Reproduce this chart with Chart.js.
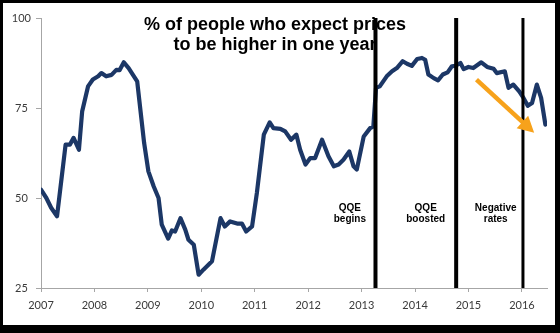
<!DOCTYPE html>
<html>
<head>
<meta charset="utf-8">
<script src="https://cdn.jsdelivr.net/npm/chart.js@4.4.1/dist/chart.umd.min.js"></script>
<style>
  html, body { margin: 0; padding: 0; background: #000; }
  #wrap { position: relative; width: 560px; height: 333px; overflow: hidden; }
  #panel { position: absolute; left: 3px; top: 3px; width: 552px; height: 322px; background: #fff; }
  canvas { position: absolute; left: 0; top: 0; }
</style>
</head>
<body>
<div id="wrap">
  <div id="panel"></div>
  <canvas id="c" width="560" height="333"></canvas>
</div>
<script>
// Survey dates (decimal years) and share of people expecting higher prices (%)
const dates = [
  2007.00, 2007.10, 2007.19, 2007.30, 2007.46, 2007.54, 2007.61, 2007.71, 2007.77, 2007.88,
  2007.97, 2008.07, 2008.13, 2008.22, 2008.32, 2008.41, 2008.47, 2008.55, 2008.64, 2008.70,
  2008.80, 2008.86, 2008.93, 2009.01, 2009.11, 2009.20, 2009.26, 2009.38, 2009.45, 2009.51,
  2009.61, 2009.70, 2009.76, 2009.86, 2009.95, 2010.04, 2010.20, 2010.36, 2010.44, 2010.54,
  2010.67, 2010.76, 2010.84, 2010.95, 2011.04, 2011.17, 2011.28, 2011.35, 2011.48, 2011.57,
  2011.68, 2011.78, 2011.85, 2011.95, 2012.04, 2012.13, 2012.26, 2012.38, 2012.48, 2012.57,
  2012.66, 2012.77, 2012.85, 2012.91, 2013.04, 2013.16, 2013.22, 2013.27, 2013.34, 2013.47,
  2013.57, 2013.66, 2013.77, 2013.85, 2013.94, 2014.04, 2014.13, 2014.19, 2014.25, 2014.35,
  2014.43, 2014.52, 2014.61, 2014.69, 2014.75, 2014.85, 2014.91, 2015.00, 2015.09, 2015.24,
  2015.35, 2015.47, 2015.53, 2015.68, 2015.75, 2015.84, 2015.95, 2016.03, 2016.11, 2016.19,
  2016.28, 2016.36, 2016.44
];
const expectHigher = [
  52.3, 50.0, 47.3, 44.9, 64.8, 64.8, 66.7, 63.4, 74.0, 81.0,
  82.9, 83.8, 84.7, 83.8, 84.2, 85.6, 85.5, 87.7, 86.1, 84.7,
  82.4, 74.5, 65.3, 57.4, 53.2, 50.0, 42.6, 38.7, 41.0, 40.7,
  44.4, 41.2, 38.4, 37.0, 28.7, 30.1, 32.4, 44.4, 42.1, 43.5,
  42.9, 42.9, 40.7, 42.1, 51.4, 67.6, 71.0, 69.4, 69.2, 68.5,
  66.2, 67.6, 63.4, 59.3, 61.1, 61.1, 66.2, 61.6, 58.8, 59.3,
  60.6, 62.9, 58.8, 57.9, 67.1, 69.4, 69.9, 80.6, 81.0, 83.8,
  85.2, 86.1, 88.0, 87.3, 86.7, 88.6, 88.9, 88.4, 84.3, 83.3,
  82.7, 84.3, 84.9, 86.6, 86.7, 87.5, 85.8, 86.4, 86.1, 87.7,
  86.4, 85.9, 84.7, 85.2, 80.6, 81.5, 79.6, 77.8, 75.6, 76.4,
  81.5, 77.8, 70.4
];
const yearTicks = [2007, 2008, 2009, 2010, 2011, 2012, 2013, 2014, 2015, 2016];
const valueTicks = [25, 50, 75, 100];

// Policy events: QQE start, QQE expansion, negative rates
const eventDates = [2013.26, 2014.77, 2016.02];
const eventNames = [['QQE', 'begins'], ['QQE', 'boosted'], ['Negative', 'rates']];

// Downward trend arrow (data coordinates)
const trendFrom = { x: 2015.15, y: 82.9 };
const trendTo = { x: 2016.23, y: 68.1 };

const titleLines = ['% of people who expect prices', 'to be higher in one year'];

const NAVY = '#1c3766';
const AXIS = '#a6a6a6';
const TICK_TEXT = '#3a3a3a';

const eventDatasets = eventDates.map((d, i) => ({
  data: [{ x: d, y: 25 }, { x: d, y: 100 }],
  borderColor: '#000',
  borderWidth: i === 2 ? 3 : 4,
  pointRadius: 0,
  borderCapStyle: 'butt',
  clip: false
}));

const overlay = {
  id: 'overlay',
  afterDatasetsDraw(chart, args, opts) {
    const { ctx } = chart;
    const xs = chart.scales.x, ys = chart.scales.y;
    ctx.save();

    // trend arrow
    const x0 = xs.getPixelForValue(trendFrom.x), y0 = ys.getPixelForValue(trendFrom.y);
    const x1 = xs.getPixelForValue(trendTo.x), y1 = ys.getPixelForValue(trendTo.y);
    const ang = Math.atan2(y1 - y0, x1 - x0);
    const headLen = 16, headHalf = 8.5;
    const bx = x1 - headLen * Math.cos(ang), by = y1 - headLen * Math.sin(ang);
    ctx.strokeStyle = opts.arrowColor;
    ctx.fillStyle = opts.arrowColor;
    ctx.lineWidth = 4.5;
    ctx.lineCap = 'butt';
    ctx.beginPath();
    ctx.moveTo(x0, y0);
    ctx.lineTo(bx + 1 * Math.cos(ang), by + 1 * Math.sin(ang));
    ctx.stroke();
    ctx.beginPath();
    ctx.moveTo(x1, y1);
    ctx.lineTo(bx + headHalf * Math.sin(ang), by - headHalf * Math.cos(ang));
    ctx.lineTo(bx - headHalf * Math.sin(ang), by + headHalf * Math.cos(ang));
    ctx.closePath();
    ctx.fill();

    // event labels
    ctx.fillStyle = '#000';
    ctx.font = 'bold 10px "Liberation Sans", Arial, sans-serif';
    ctx.textAlign = 'center';
    ctx.textBaseline = 'alphabetic';
    eventNames.forEach((lines, i) => {
      const cx = xs.getPixelForValue(opts.labelX[i]);
      const cy = ys.getPixelForValue(opts.labelY);
      lines.forEach((t, j) => ctx.fillText(t, cx, cy + j * 11.2));
    });

    // title
    ctx.font = 'bold 18px "Liberation Sans", Arial, sans-serif';
    titleLines.forEach((t, j) => ctx.fillText(t, 275, 29.5 + j * 20));
    ctx.restore();
  }
};

new Chart(document.getElementById('c'), {
  type: 'line',
  data: {
    datasets: [
      ...eventDatasets,
      {
        data: dates.map((d, i) => ({ x: d, y: expectHigher[i] })),
        borderColor: NAVY,
        borderWidth: 4.2,
        pointRadius: 0,
        tension: 0,
        borderJoinStyle: 'round',
        borderCapStyle: 'round'
      }
    ]
  },
  options: {
    responsive: false,
    animation: false,
    devicePixelRatio: 1,
    layout: { padding: { top: 18, right: 13, bottom: 19, left: 0 } },
    plugins: {
      legend: { display: false },
      tooltip: { enabled: false },
      overlay: {
        arrowColor: '#f7a21b',
        labelX: [2012.78, 2014.20, 2015.51],
        labelY: 46.5
      }
    },
    scales: {
      x: {
        type: 'linear',
        min: 2007,
        max: 2016.47,
        afterBuildTicks: s => { s.ticks = yearTicks.map(v => ({ value: v })); },
        afterFit: s => { s.height = 26; },
        grid: { drawOnChartArea: false, drawTicks: true, tickLength: 4, color: AXIS },
        border: { display: true, color: AXIS, width: 1 },
        ticks: {
          padding: 7,
          maxRotation: 0,
          autoSkip: false,
          color: TICK_TEXT,
          font: { family: 'Lato', size: 11 },
          callback: v => String(v)
        }
      },
      y: {
        min: 25,
        max: 100,
        afterBuildTicks: s => { s.ticks = valueTicks.map(v => ({ value: v })); },
        afterFit: s => { s.width = 41; },
        grid: { drawOnChartArea: false, drawTicks: true, tickLength: 5, color: AXIS },
        border: { display: true, color: AXIS, width: 1 },
        ticks: {
          padding: 5,
          crossAlign: 'center',
          color: TICK_TEXT,
          font: { family: 'Lato', size: 11 },
          callback: v => String(v)
        }
      }
    }
  },
  plugins: [overlay]
});
</script>
</body>
</html>
